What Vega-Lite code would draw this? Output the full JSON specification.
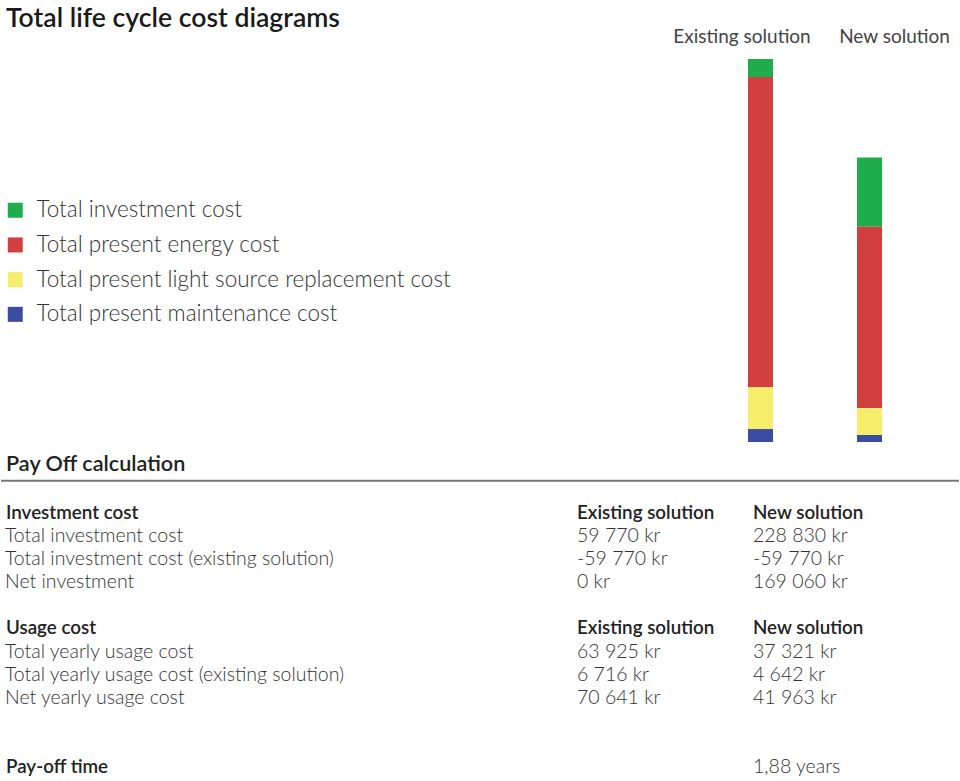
{
  "$schema": "https://vega.github.io/schema/vega-lite/v6.json",
  "width": 960,
  "height": 781,
  "autosize": {"type": "fit", "contains": "padding"},
  "padding": {"top": 6, "left": 0, "right": 0, "bottom": 0},
  "background": "white",
  "title": {
    "text": "Total life cycle cost diagrams",
    "anchor": "start",
    "font": "Lato",
    "fontSize": 26.6,
    "fontWeight": 600,
    "color": "#1a1a1a",
    "dx": 6,
    "dy": 6,
    "offset": 0
  },
  "config": {
    "view": {"stroke": null},
    "font": "Lato"
  },
  "datasets": {
    "costs": [
      {"solution": "Existing solution", "component": "Total investment cost", "value": 59770},
      {"solution": "Existing solution", "component": "Total present energy cost", "value": 1026300},
      {"solution": "Existing solution", "component": "Total present light source replacement cost", "value": 138600},
      {"solution": "Existing solution", "component": "Total present maintenance cost", "value": 42900},
      {"solution": "New solution", "component": "Total investment cost", "value": 228830},
      {"solution": "New solution", "component": "Total present energy cost", "value": 600600},
      {"solution": "New solution", "component": "Total present light source replacement cost", "value": 89100},
      {"solution": "New solution", "component": "Total present maintenance cost", "value": 23100}
    ],
    "section": [
      {"row": -2, "col": 0, "text": "Pay Off calculation"}
    ],
    "tableHead": [
      {"row": 0, "col": 0, "text": "Investment cost"},
      {"row": 0, "col": 1, "text": "Existing solution"},
      {"row": 0, "col": 2, "text": "New solution"},
      {"row": 5, "col": 0, "text": "Usage cost"},
      {"row": 5, "col": 1, "text": "Existing solution"},
      {"row": 5, "col": 2, "text": "New solution"},
      {"row": 11, "col": 0, "text": "Pay-off time"}
    ],
    "tableBody": [
      {"row": 1, "col": 0, "text": "Total investment cost"},
      {"row": 1, "col": 1, "text": "59 770 kr"},
      {"row": 1, "col": 2, "text": "228 830 kr"},
      {"row": 2, "col": 0, "text": "Total investment cost (existing solution)"},
      {"row": 2, "col": 1, "text": "-59 770 kr"},
      {"row": 2, "col": 2, "text": "-59 770 kr"},
      {"row": 3, "col": 0, "text": "Net investment"},
      {"row": 3, "col": 1, "text": "0 kr"},
      {"row": 3, "col": 2, "text": "169 060 kr"},
      {"row": 6, "col": 0, "text": "Total yearly usage cost"},
      {"row": 6, "col": 1, "text": "63 925 kr"},
      {"row": 6, "col": 2, "text": "37 321 kr"},
      {"row": 7, "col": 0, "text": "Total yearly usage cost (existing solution)"},
      {"row": 7, "col": 1, "text": "6 716 kr"},
      {"row": 7, "col": 2, "text": "4 642 kr"},
      {"row": 8, "col": 0, "text": "Net yearly usage cost"},
      {"row": 8, "col": 1, "text": "70 641 kr"},
      {"row": 8, "col": 2, "text": "41 963 kr"},
      {"row": 11, "col": 2, "text": "1,88 years"}
    ]
  },
  "layer": [
    {
      "data": {"name": "costs"},
      "mark": {"type": "bar"},
      "encoding": {
        "x": {
          "field": "solution",
          "type": "nominal",
          "scale": {"type": "band", "domain": ["Existing solution", "New solution"], "range": [747, 881], "paddingInner": 0.7706, "paddingOuter": 0},
          "axis": {
            "orient": "top",
            "title": null,
            "domain": false,
            "ticks": false,
            "labelAngle": 0,
            "labelFont": "Lato",
            "labelFontSize": 19,
            "labelColor": "#444444",
            "labelPadding": 2,
            "offset": -1,
            "labelOffset": {"condition": {"test": "datum.value === 'Existing solution'", "value": -18.5}, "value": 25}
          }
        },
        "y": {
          "field": "value",
          "type": "quantitative",
          "stack": "zero",
          "scale": {"domain": [0, 1267570], "range": [395, 12], "nice": false, "zero": true},
          "axis": null
        },
        "color": {
          "field": "component",
          "type": "nominal",
          "scale": {
            "domain": ["Total investment cost", "Total present energy cost", "Total present light source replacement cost", "Total present maintenance cost"],
            "range": ["#1fae4b", "#d13f3f", "#f6ee6a", "#3b4da3"]
          },
          "legend": {
            "orient": "none",
            "legendX": 3,
            "legendY": 152,
            "title": null,
            "padding": 0,
            "symbolType": "square",
            "symbolSize": 225,
            "symbolStrokeWidth": 0,
            "symbolOpacity": 1,
            "labelFont": "Lato",
            "labelFontSize": 22.5,
            "labelFontWeight": 300,
            "labelColor": "#333333",
            "labelLimit": 600,
            "labelOffset": 10,
            "rowPadding": 11.7
          }
        },
        "order": {"field": "component", "sort": "descending"}
      }
    },
    {
      "data": {"name": "section"},
      "mark": {"type": "rule", "color": "#777777", "strokeWidth": 2},
      "encoding": {
        "y": {"datum": -1.4, "type": "quantitative", "scale": {"domain": [0, 11], "range": [466, 720], "nice": false, "zero": false}, "axis": null}
      }
    },
    {
      "data": {"name": "section"},
      "mark": {"type": "text", "align": "left", "baseline": "middle", "font": "Lato", "fontSize": 21.6, "fontWeight": 600, "color": "#222222", "dy": -2},
      "encoding": {
        "x": {"field": "col", "type": "quantitative", "scale": {"domain": [0, 1, 2], "range": [5, 576, 752], "nice": false, "zero": false}, "axis": null},
        "y": {"field": "row", "type": "quantitative", "scale": {"domain": [0, 11], "range": [466, 720], "nice": false, "zero": false}, "axis": null},
        "text": {"field": "text", "type": "nominal"}
      }
    },
    {
      "data": {"name": "tableHead"},
      "mark": {"type": "text", "align": "left", "baseline": "middle", "font": "Lato", "fontSize": 18.8, "fontWeight": 600, "color": "#222222"},
      "encoding": {
        "x": {"field": "col", "type": "quantitative", "scale": {"domain": [0, 1, 2], "range": [5, 576, 752], "nice": false, "zero": false}, "axis": null},
        "y": {"field": "row", "type": "quantitative", "scale": {"domain": [0, 11], "range": [466, 720], "nice": false, "zero": false}, "axis": null},
        "text": {"field": "text", "type": "nominal"}
      }
    },
    {
      "data": {"name": "tableBody"},
      "mark": {"type": "text", "align": "left", "baseline": "middle", "font": "Lato", "fontSize": 19.5, "fontWeight": 300, "color": "#333333"},
      "encoding": {
        "x": {"field": "col", "type": "quantitative", "scale": {"domain": [0, 1, 2], "range": [4, 576, 752], "nice": false, "zero": false}, "axis": null},
        "y": {"field": "row", "type": "quantitative", "scale": {"domain": [0, 11], "range": [466, 720], "nice": false, "zero": false}, "axis": null},
        "text": {"field": "text", "type": "nominal"}
      }
    }
  ],
  "resolve": {"scale": {"x": "independent", "y": "independent"}}
}
